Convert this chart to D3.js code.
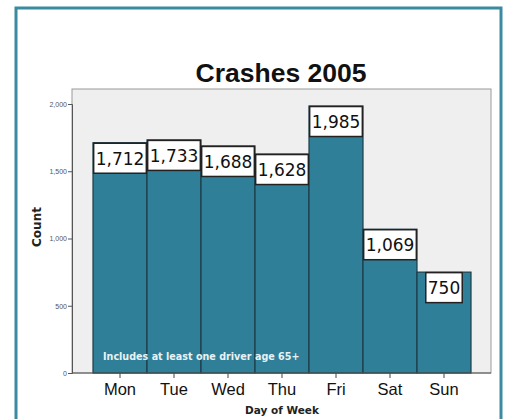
<!DOCTYPE html>
<html><head><meta charset="utf-8">
<script src="https://cdn.jsdelivr.net/npm/d3@7"></script>
<style>body{margin:0;background:#fff}svg{display:block}</style>
</head><body>
<script>
const days = ["Mon","Tue","Wed","Thu","Fri","Sat","Sun"];
const counts = [1712,1733,1688,1628,1985,1069,750];
const yTicks = [0,500,1000,1500,2000];

const W=507,H=419;
const svg=d3.select("body").append("svg").attr("width",W).attr("height",H);
svg.append("rect").attr("x",16).attr("y",8).attr("width",485).attr("height",420)
  .attr("fill","#fff").attr("stroke","#3a8ba2").attr("stroke-width",3);

const pl=72,pr=491,pt=89,pb=373;
svg.append("rect").attr("x",pl).attr("y",pt).attr("width",pr-pl).attr("height",pb-pt)
  .attr("fill","#efefef").attr("stroke","#9a9a9a").attr("stroke-width",1);

const x=d3.scaleBand().domain(days).range([93,471]).padding(0);
const y=d3.scaleLinear().domain([0,2000]).range([pb,104]);

svg.append("text").attr("x",281).attr("y",82).attr("text-anchor","middle")
  .attr("font-family","Liberation Sans, Arial, sans-serif").attr("font-weight","bold")
  .attr("font-size",26.5).attr("fill","#111").text("Crashes 2005");

// bars
svg.selectAll("rect.bar").data(days).enter().append("rect").attr("class","bar")
  .attr("x",d=>x(d)).attr("width",x.bandwidth())
  .attr("y",(d,i)=>y(counts[i])).attr("height",(d,i)=>pb-y(counts[i]))
  .attr("fill","#2f7f98").attr("stroke","#1d3c47").attr("stroke-width",1.2);

// y axis
const ya=svg.append("g").attr("transform",`translate(${pl},0)`)
  .call(d3.axisLeft(y).tickValues(yTicks).tickFormat(d3.format(",")).tickSize(4).tickPadding(1));
ya.select(".domain").attr("stroke","#555");
ya.selectAll("line").attr("stroke","#555");
ya.selectAll("text").attr("font-family","Liberation Sans, Arial, sans-serif").attr("font-size",7).attr("fill","#555");

// x axis
const xa=svg.append("g").attr("transform",`translate(0,${pb})`)
  .call(d3.axisBottom(x).tickSize(5).tickPadding(5));
xa.select(".domain").remove();
svg.append("line").attr("x1",pl).attr("x2",pr).attr("y1",pb).attr("y2",pb).attr("stroke","#555");
xa.selectAll("line").attr("stroke","#444");
xa.selectAll("text").attr("font-family","Liberation Sans, Arial, sans-serif").attr("font-size",16.5).attr("fill","#111");

svg.append("text").attr("x",282).attr("y",414).attr("text-anchor","middle")
  .attr("font-family","DejaVu Sans, sans-serif").attr("font-weight","bold").attr("font-size",10.5)
  .attr("fill","#222").text("Day of Week");
svg.append("text").attr("transform","translate(41,227) rotate(-90)").attr("text-anchor","middle")
  .attr("font-family","DejaVu Sans, sans-serif").attr("font-weight","bold").attr("font-size",12)
  .attr("fill","#222").text("Count");

svg.append("text").attr("x",103).attr("y",360)
  .attr("font-family","DejaVu Sans, sans-serif").attr("font-weight","bold").attr("font-size",9.6)
  .attr("fill","#e8f2f5").text("Includes at least one driver age 65+");

// labels
const fmt=d3.format(",");
const lg=svg.selectAll("g.lab").data(days).enter().append("g").attr("class","lab");
lg.each(function(d,i){
  const g=d3.select(this);
  const cx=x(d)+x.bandwidth()/2, top=y(counts[i]);
  const t=g.append("text").attr("x",cx).attr("y",top+22).attr("text-anchor","middle")
    .attr("font-family","DejaVu Sans, sans-serif").attr("font-size",17).attr("fill","#111")
    .text(fmt(counts[i]));
  const bw=t.node().getComputedTextLength()+4;
  g.insert("rect","text").attr("x",cx-bw/2).attr("y",top+0.5).attr("width",bw).attr("height",30)
    .attr("fill","#fff").attr("stroke","#222").attr("stroke-width",1.5);
});
</script>
</body></html>
